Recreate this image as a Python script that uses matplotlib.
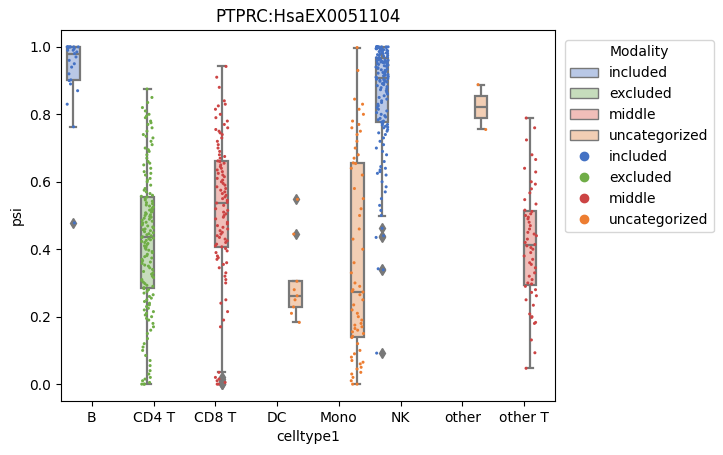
import matplotlib
matplotlib.use("Agg")
import matplotlib.pyplot as plt
from matplotlib.patches import Patch
from matplotlib.lines import Line2D
import numpy as np
import pandas as pd
import seaborn as sns

order = ["B", "CD4 T", "CD8 T", "DC", "Mono", "NK", "other", "other T"]
hue_order = ["included", "excluded", "middle", "uncategorized"]

# one modality per cell type
modality = {"B": "included", "CD4 T": "excluded", "CD8 T": "middle",
            "DC": "uncategorized", "Mono": "uncategorized", "NK": "included",
            "other": "uncategorized", "other T": "middle"}

psi_B = [0.478, 0.763, 0.83, 0.87, 0.89, 0.90, 0.902, 0.92, 0.94, 0.95,
         0.96, 0.97, 0.98, 0.985, 0.99, 0.99, 0.995, 0.998,
         1.0, 1.0, 1.0, 1.0, 1.0, 1.0, 1.0]

psi_CD4T = [0.0, 0.0, 0.0, 0.005, 0.01, 0.015, 0.02, 0.03, 0.04, 0.055,
            0.07, 0.085, 0.1, 0.11, 0.12, 0.135, 0.15, 0.16, 0.17, 0.18,
            0.19, 0.195, 0.2, 0.205, 0.21, 0.215, 0.22, 0.225, 0.23, 0.235,
            0.24, 0.245, 0.25, 0.255, 0.26, 0.265, 0.27, 0.275, 0.28, 0.283,
            0.286, 0.29, 0.293, 0.298, 0.302, 0.307, 0.31, 0.316, 0.32, 0.326,
            0.33, 0.334, 0.34, 0.345, 0.35, 0.353, 0.358, 0.362, 0.366, 0.37,
            0.374, 0.378, 0.381, 0.385, 0.39, 0.393, 0.397, 0.4, 0.404, 0.407,
            0.41, 0.414, 0.417, 0.42, 0.423, 0.426, 0.428, 0.431, 0.433, 0.435,
            0.437, 0.44, 0.443, 0.446, 0.449, 0.452, 0.455, 0.458, 0.46, 0.463,
            0.466, 0.469, 0.472, 0.475, 0.478, 0.48, 0.483, 0.486, 0.489, 0.492,
            0.495, 0.497, 0.5, 0.502, 0.505, 0.508, 0.51, 0.513, 0.516, 0.519,
            0.522, 0.525, 0.528, 0.531, 0.535, 0.538, 0.542, 0.546, 0.55, 0.555,
            0.557, 0.56, 0.565, 0.57, 0.575, 0.58, 0.59, 0.6, 0.605, 0.61,
            0.62, 0.625, 0.63, 0.64, 0.65, 0.655, 0.66, 0.67, 0.68, 0.69,
            0.695, 0.7, 0.71, 0.72, 0.73, 0.735, 0.74, 0.75, 0.76, 0.77,
            0.775, 0.78, 0.79, 0.795, 0.8, 0.81, 0.82, 0.835, 0.85, 0.875]

psi_CD8T = [0.0, 0.0, 0.005, 0.01, 0.015, 0.02, 0.035, 0.17, 0.19, 0.215,
            0.24, 0.25, 0.3, 0.31, 0.32, 0.33, 0.345, 0.355, 0.36, 0.37,
            0.375, 0.38, 0.39, 0.395, 0.402,
            0.407, 0.41, 0.415, 0.42, 0.425, 0.43, 0.435, 0.44, 0.445, 0.45,
            0.455, 0.46, 0.465, 0.47, 0.475, 0.48, 0.49, 0.495, 0.5, 0.505,
            0.51, 0.515, 0.52, 0.53, 0.537,
            0.539, 0.545, 0.55, 0.555, 0.56, 0.565, 0.57, 0.575, 0.58, 0.585,
            0.59, 0.595, 0.6, 0.605, 0.61, 0.615, 0.62, 0.625, 0.63, 0.635,
            0.64, 0.645, 0.65, 0.655, 0.66,
            0.662, 0.67, 0.675, 0.68, 0.69, 0.7, 0.71, 0.72, 0.73, 0.74,
            0.745, 0.75, 0.755, 0.76, 0.77, 0.78, 0.79, 0.8, 0.815, 0.825,
            0.83, 0.84, 0.88, 0.91, 0.942]

psi_DC = [0.183, 0.21, 0.229, 0.25, 0.262, 0.28, 0.305, 0.445, 0.548]

psi_Mono = [0.0, 0.0, 0.01, 0.02, 0.03, 0.035, 0.045, 0.05, 0.06, 0.065,
            0.07, 0.08, 0.09, 0.1, 0.12, 0.138,
            0.142, 0.15, 0.155, 0.16, 0.165, 0.17, 0.175, 0.18, 0.19, 0.2,
            0.21, 0.22, 0.235, 0.25, 0.265, 0.273,
            0.275, 0.28, 0.29, 0.3, 0.33, 0.36, 0.4, 0.43, 0.46, 0.5,
            0.52, 0.55, 0.58, 0.62, 0.64, 0.654,
            0.656, 0.67, 0.68, 0.7, 0.72, 0.74, 0.75, 0.76, 0.77, 0.78,
            0.8, 0.815, 0.83, 0.845, 0.93, 0.998]

psi_NK = [0.092, 0.339, 0.342, 0.435, 0.44, 0.462, 0.50, 0.515, 0.53, 0.55,
          0.57, 0.585, 0.6, 0.62, 0.625, 0.63, 0.635, 0.64, 0.645, 0.66,
          0.68, 0.69, 0.7, 0.71, 0.72, 0.73, 0.74, 0.745, 0.75, 0.755,
          0.76, 0.762, 0.765, 0.768, 0.77, 0.773,
          0.777, 0.78, 0.784, 0.788, 0.792, 0.796, 0.8, 0.805, 0.81, 0.815,
          0.82, 0.825, 0.83, 0.835, 0.84, 0.845, 0.85, 0.855, 0.86, 0.865,
          0.87, 0.873, 0.876, 0.879, 0.882, 0.885, 0.888, 0.891, 0.894, 0.896,
          0.898, 0.9, 0.901, 0.903, 0.904, 0.906,
          0.908, 0.91, 0.912, 0.914, 0.916, 0.918, 0.92, 0.922, 0.924, 0.926,
          0.928, 0.93, 0.932, 0.934, 0.936, 0.938, 0.94, 0.942, 0.944, 0.946,
          0.948, 0.95, 0.951, 0.952, 0.953, 0.954, 0.955, 0.956, 0.957, 0.958,
          0.959, 0.96, 0.961, 0.962, 0.963, 0.965,
          0.967, 0.968, 0.97, 0.972, 0.974, 0.975, 0.977, 0.978, 0.98, 0.981,
          0.982, 0.984, 0.985, 0.986, 0.988, 0.989, 0.99, 0.991, 0.992, 0.993,
          0.994, 0.995, 0.996, 0.997, 0.998, 0.999, 1.0, 1.0, 1.0, 1.0,
          1.0, 1.0, 1.0, 1.0, 1.0, 1.0]

psi_other = [0.755, 0.888]

psi_otherT = [0.047, 0.093, 0.131, 0.18, 0.183, 0.198, 0.2, 0.208, 0.234, 0.25,
              0.262, 0.272, 0.28, 0.29,
              0.297, 0.3, 0.31, 0.32, 0.33, 0.345, 0.355, 0.36, 0.37, 0.38,
              0.39, 0.4, 0.405, 0.41,
              0.414, 0.42, 0.43, 0.44, 0.445, 0.45, 0.46, 0.47, 0.48, 0.49,
              0.495, 0.5, 0.505, 0.512,
              0.516, 0.534, 0.547, 0.567, 0.579, 0.593, 0.6, 0.629, 0.64, 0.666,
              0.68, 0.724, 0.76, 0.789]

psi = {"B": psi_B, "CD4 T": psi_CD4T, "CD8 T": psi_CD8T, "DC": psi_DC,
       "Mono": psi_Mono, "NK": psi_NK, "other": psi_other, "other T": psi_otherT}

point_colors = {"included": "#4472C4", "excluded": "#70AD47",
                "middle": "#CC4444", "uncategorized": "#ED7D31"}
box_colors = {"included": "#B9C8E6", "excluded": "#C6DCBC",
              "middle": "#F0BEB9", "uncategorized": "#F2CEB4"}
line_gray = "0.47"

rows = []
for ct in order:
    for v in psi[ct]:
        rows.append((ct, v, modality[ct]))
df = pd.DataFrame(rows, columns=["celltype1", "psi", "Modality"])

fig, ax = plt.subplots(figsize=(7.23, 4.55), dpi=100)
fig.subplots_adjust(left=61/723, right=555/723, bottom=54/455, top=425/455)

sns.boxplot(data=df, x="celltype1", y="psi", hue="Modality", order=order,
            hue_order=hue_order, palette=box_colors, saturation=1, dodge=True,
            linecolor=line_gray, linewidth=1.6, width=0.8, legend=False,
            flierprops=dict(marker="d", markerfacecolor=line_gray,
                            markeredgecolor=line_gray, markersize=5),
            ax=ax)
sns.stripplot(data=df, x="celltype1", y="psi", hue="Modality", order=order,
              hue_order=hue_order, palette=point_colors, dodge=True,
              jitter=0.4, size=2.2, legend=False, ax=ax)

ax.set_ylim(-0.05, 1.05)
ax.set_xlim(-0.5, 7.5)
ax.set_title("PTPRC:HsaEX0051104")
ax.set_xlabel("celltype1")
ax.set_ylabel("psi")

handles = [Patch(facecolor=box_colors[m], edgecolor=line_gray, linewidth=1.0) for m in hue_order]
handles += [Line2D([], [], linestyle="", marker="o", markersize=6,
                   color=point_colors[m]) for m in hue_order]
labels = hue_order + hue_order
ax.legend(handles, labels, title="Modality", loc="upper left",
          bbox_to_anchor=(1.0, 1.0), borderaxespad=0.7)

fig.savefig("out.png", dpi=100)
